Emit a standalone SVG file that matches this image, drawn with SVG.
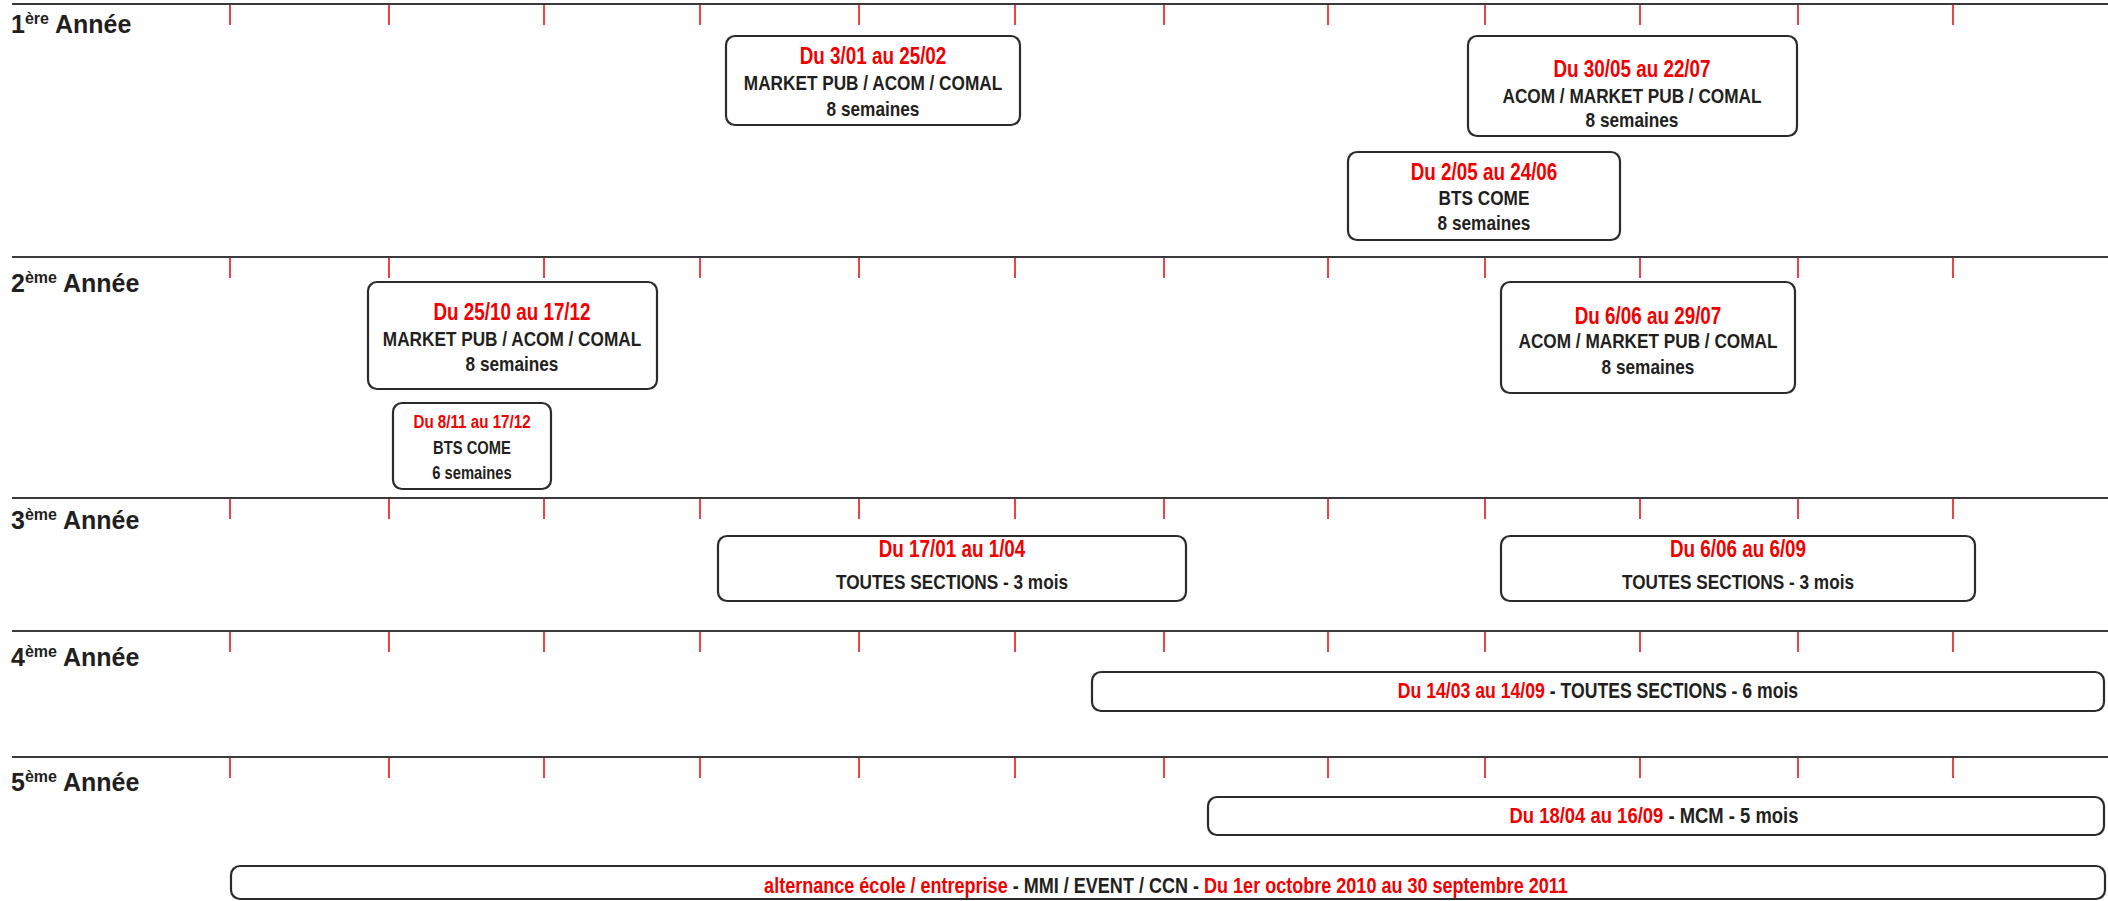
<svg xmlns="http://www.w3.org/2000/svg" width="2108" height="901" viewBox="0 0 2108 901">
<style>
.bg{fill:#ffffff}
.rule{stroke:#3a3a3a;stroke-width:2.2;fill:none}
.tick{stroke:#e8141c;stroke-width:1.6;fill:none}
.box{fill:#ffffff;stroke:#2b2b2b;stroke-width:2.2}
.yr{font-family:"Liberation Sans",Arial,sans-serif;font-weight:bold;font-size:25px;fill:#231f20}
.sup{font-size:16px}
.t{font-family:"Liberation Sans",Arial,sans-serif;font-weight:bold;font-size:21px;fill:#231f20;text-anchor:middle}
.d{fill:#f00000;font-size:23px}
.s{font-size:18px}
.sd{fill:#f00000;font-size:18.5px}
.r{fill:#f00000}
</style>
<defs>
<g id="ticks">
<line class="tick" x1="230" y1="0" x2="230" y2="20"/>
<line class="tick" x1="389" y1="0" x2="389" y2="20"/>
<line class="tick" x1="544" y1="0" x2="544" y2="20"/>
<line class="tick" x1="700" y1="0" x2="700" y2="20"/>
<line class="tick" x1="859" y1="0" x2="859" y2="20"/>
<line class="tick" x1="1015" y1="0" x2="1015" y2="20"/>
<line class="tick" x1="1164" y1="0" x2="1164" y2="20"/>
<line class="tick" x1="1328" y1="0" x2="1328" y2="20"/>
<line class="tick" x1="1485" y1="0" x2="1485" y2="20"/>
<line class="tick" x1="1640" y1="0" x2="1640" y2="20"/>
<line class="tick" x1="1798" y1="0" x2="1798" y2="20"/>
<line class="tick" x1="1953" y1="0" x2="1953" y2="20"/>
</g>
</defs>
<rect class="bg" x="0" y="0" width="2108" height="901"/>

<g id="timeline">
<line class="rule" x1="12" y1="4" x2="2108" y2="4"/>
<use href="#ticks" x="0" y="5"/>
<line class="rule" x1="12" y1="257" x2="2108" y2="257"/>
<use href="#ticks" x="0" y="258"/>
<line class="rule" x1="12" y1="498" x2="2108" y2="498"/>
<use href="#ticks" x="0" y="499"/>
<line class="rule" x1="12" y1="631" x2="2108" y2="631"/>
<use href="#ticks" x="0" y="632"/>
<line class="rule" x1="12" y1="757" x2="2108" y2="757"/>
<use href="#ticks" x="0" y="758"/>
</g>

<g id="labels">
<text class="yr" x="11" y="33">1<tspan class="sup" dy="-9">ère</tspan><tspan dy="9"> Année</tspan></text>
<text class="yr" x="11" y="292">2<tspan class="sup" dy="-9">ème</tspan><tspan dy="9"> Année</tspan></text>
<text class="yr" x="11" y="529">3<tspan class="sup" dy="-9">ème</tspan><tspan dy="9"> Année</tspan></text>
<text class="yr" x="11" y="666">4<tspan class="sup" dy="-9">ème</tspan><tspan dy="9"> Année</tspan></text>
<text class="yr" x="11" y="791">5<tspan class="sup" dy="-9">ème</tspan><tspan dy="9"> Année</tspan></text>
</g>

<g id="connectors"></g>

<g id="y1-market">
<rect class="box" x="726" y="36" width="294" height="89" rx="9"/>
<text class="t d" transform="translate(873 64) scale(0.82 1)">Du 3/01 au 25/02</text>
<text class="t" transform="translate(873 90) scale(0.82 1)">MARKET PUB / ACOM / COMAL</text>
<text class="t" transform="translate(873 116) scale(0.82 1)">8 semaines</text>
</g>

<g id="y1-acom">
<rect class="box" x="1468" y="36" width="329" height="100" rx="9"/>
<text class="t d" transform="translate(1632 77) scale(0.82 1)">Du 30/05 au 22/07</text>
<text class="t" transform="translate(1632 103) scale(0.82 1)">ACOM / MARKET PUB / COMAL</text>
<text class="t" transform="translate(1632 127) scale(0.82 1)">8 semaines</text>
</g>

<g id="y1-bts">
<rect class="box" x="1348" y="152" width="272" height="88" rx="9"/>
<text class="t d" transform="translate(1484 180) scale(0.82 1)">Du 2/05 au 24/06</text>
<text class="t" transform="translate(1484 205) scale(0.82 1)">BTS COME</text>
<text class="t" transform="translate(1484 230) scale(0.82 1)">8 semaines</text>
</g>

<g id="y2-market">
<rect class="box" x="368" y="282" width="289" height="107" rx="9"/>
<text class="t d" transform="translate(512 320) scale(0.82 1)">Du 25/10 au 17/12</text>
<text class="t" transform="translate(512 346) scale(0.82 1)">MARKET PUB / ACOM / COMAL</text>
<text class="t" transform="translate(512 371) scale(0.82 1)">8 semaines</text>
</g>

<g id="y2-bts">
<rect class="box" x="393" y="403" width="158" height="86" rx="9"/>
<text class="t sd" transform="translate(472 428) scale(0.82 1)">Du 8/11 au 17/12</text>
<text class="t s" transform="translate(472 454) scale(0.82 1)">BTS COME</text>
<text class="t s" transform="translate(472 479) scale(0.82 1)">6 semaines</text>
</g>

<g id="y2-acom">
<rect class="box" x="1501" y="282" width="294" height="111" rx="9"/>
<text class="t d" transform="translate(1648 324) scale(0.82 1)">Du 6/06 au 29/07</text>
<text class="t" transform="translate(1648 348) scale(0.82 1)">ACOM / MARKET PUB / COMAL</text>
<text class="t" transform="translate(1648 374) scale(0.82 1)">8 semaines</text>
</g>

<g id="y3-winter">
<rect class="box" x="718" y="536" width="468" height="65" rx="9"/>
<text class="t d" transform="translate(952 557) scale(0.82 1)">Du 17/01 au 1/04</text>
<text class="t" transform="translate(952 589) scale(0.82 1)">TOUTES SECTIONS - 3 mois</text>
</g>

<g id="y3-summer">
<rect class="box" x="1501" y="536" width="474" height="65" rx="9"/>
<text class="t d" transform="translate(1738 557) scale(0.82 1)">Du 6/06 au 6/09</text>
<text class="t" transform="translate(1738 589) scale(0.82 1)">TOUTES SECTIONS - 3 mois</text>
</g>

<g id="y4">
<rect class="box" x="1092" y="672" width="1012" height="39" rx="9"/>
<text class="t" style="font-size:21.5px" transform="translate(1598 698) scale(0.82 1)"><tspan class="r">Du 14/03 au 14/09</tspan> - TOUTES SECTIONS - 6 mois</text>
</g>

<g id="y5">
<rect class="box" x="1208" y="797" width="896" height="38" rx="9"/>
<text class="t" style="font-size:22.5px" transform="translate(1654 823) scale(0.82 1)"><tspan class="r">Du 18/04 au 16/09</tspan> - MCM - 5 mois</text>
</g>

<g id="alternance">
<rect class="box" x="231" y="866" width="1874" height="33" rx="9"/>
<text class="t" style="font-size:22px" transform="translate(1166 893) scale(0.82 1)"><tspan class="r">alternance école / entreprise</tspan> - MMI / EVENT / CCN - <tspan class="r">Du 1er octobre 2010 au 30 septembre 2011</tspan></text>
</g>
</svg>
